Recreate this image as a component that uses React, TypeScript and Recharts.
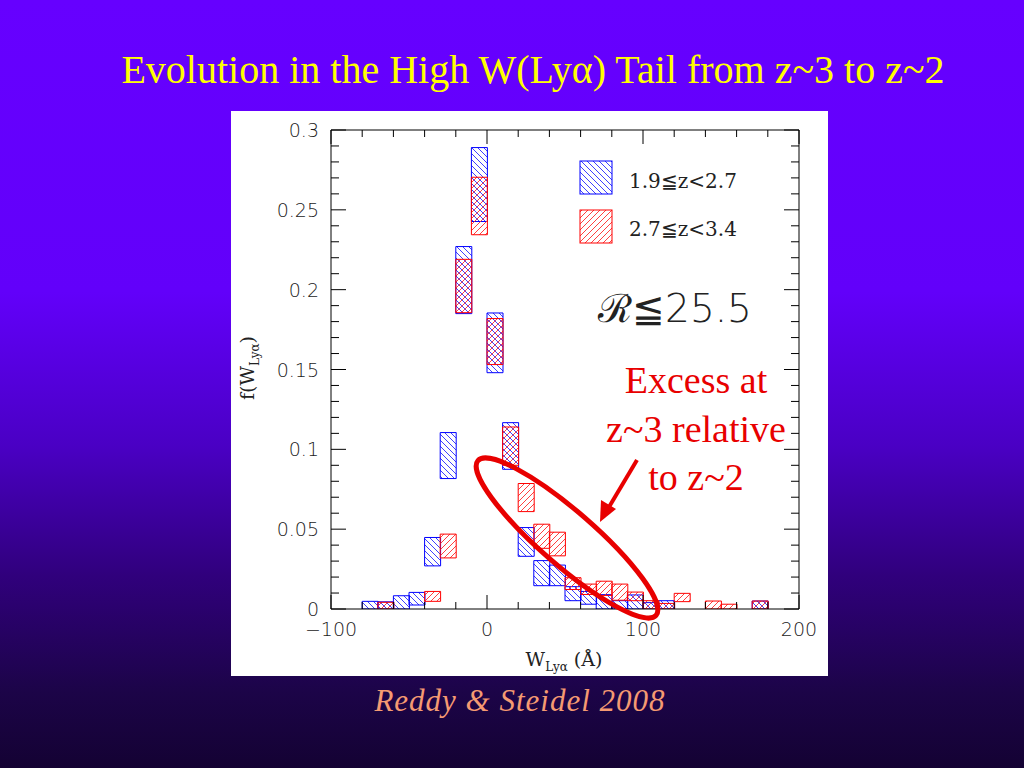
import React from 'react';
import { ComposedChart, Bar, XAxis, YAxis } from 'recharts';

// bin start (Å), each bin is 10 Å wide
const binStarts = [-100, -90, -80, -70, -60, -50, -40, -30, -20, -10, 0, 10, 20, 30, 40, 50, 60, 70, 80, 90, 100, 110, 120, 130, 140, 150, 160, 170, 180, 190];

// 1.9 <= z < 2.7 (blue): lower / upper edge of each box
const blueLow = [null, null, 0, 0, 0, 0.0025, 0.027, 0.0817, 0.185, 0.2427, 0.148, 0.0875, 0.033, 0.0146, 0.0146, 0.0052, 0.003, 0, 0, 0, 0, 0, null, null, null, null, null, 0, null, null];
const blueHigh = [null, null, 0.0048, 0.0045, 0.0083, 0.0104, 0.0448, 0.1105, 0.227, 0.289, 0.1854, 0.1167, 0.051, 0.0303, 0.0275, 0.014, 0.011, 0.009, 0.0052, 0.0088, 0.004, 0.0052, null, null, null, null, null, 0.005, null, null];

// 2.7 <= z < 3.4 (red)
const redLow = [null, null, null, 0, null, null, 0.0048, 0.032, 0.1856, 0.2344, 0.1531, 0.09, 0.061, 0.038, 0.0333, 0.0122, 0.0091, 0.0085, 0.0055, 0.0052, 0, 0, 0.0046, null, 0, 0, null, 0, null, null];
const redHigh = [null, null, null, 0.0042, null, null, 0.011, 0.0469, 0.219, 0.2704, 0.1819, 0.114, 0.0786, 0.0531, 0.0481, 0.0196, 0.0156, 0.0174, 0.0156, 0.0106, 0.0052, 0.0035, 0.0098, null, 0.005, 0.003, null, 0.005, null, null];

const xTicks = [-100, -80, -60, -40, -20, 0, 20, 40, 60, 80, 100, 120, 140, 160, 180, 200];
const xLabels = [-100, 0, 100, 200];
const yTicks = [0, 0.01, 0.02, 0.03, 0.04, 0.05, 0.06, 0.07, 0.08, 0.09, 0.1, 0.11, 0.12, 0.13, 0.14, 0.15, 0.16, 0.17, 0.18, 0.19, 0.2, 0.21, 0.22, 0.23, 0.24, 0.25, 0.26, 0.27, 0.28, 0.29, 0.3];
const yLabels = [0, 0.05, 0.1, 0.15, 0.2, 0.25, 0.3];

const seriesNames = ['1.9≦z<2.7', '2.7≦z<3.4'];

const data = binStarts.map((b, i) => ({
  bin: b,
  blue: blueLow[i] === null ? null : [blueLow[i], blueHigh[i]],
  red: redLow[i] === null ? null : [redLow[i], redHigh[i]],
  top: blueHigh[i] ?? 0,
}));

const tickFont = { fontFamily: 'DejaVu Sans', fontSize: 19, fontWeight: 200, fill: '#1a1a1a' };
const isXMajor = (v: number) => xLabels.includes(v);
const isYMajor = (v: number) => yLabels.includes(v);
const fmt = (v: number) => (v < 0 ? `−${-v}` : String(v));

const BottomTick = ({ x, y, payload }: any) => {
  const major = isXMajor(payload.value);
  return (
    <g>
      <line x1={x} y1={y} x2={x} y2={y - (major ? 14 : 7)} stroke="#000" />
      {major && (
        <text x={x} y={y + 27} textAnchor="middle" {...tickFont}>
          {fmt(payload.value)}
        </text>
      )}
    </g>
  );
};

const TopTick = ({ x, y, payload }: any) => {
  const major = isXMajor(payload.value);
  return <line x1={x} y1={y} x2={x} y2={y + (major ? 14 : 7)} stroke="#000" />;
};

const LeftTick = ({ x, y, payload }: any) => {
  const major = isYMajor(payload.value);
  return (
    <g>
      <line x1={x} y1={y} x2={x + (major ? 15 : 8)} y2={y} stroke="#000" />
      {major && (
        <text x={x - 12} y={y + 7} textAnchor="end" {...tickFont}>
          {fmt(payload.value)}
        </text>
      )}
    </g>
  );
};

const RightTick = ({ x, y, payload }: any) => {
  const major = isYMajor(payload.value);
  return <line x1={x} y1={y} x2={x - (major ? 15 : 8)} y2={y} stroke="#000" />;
};

function HatchDefs({ prefix }: { prefix: string }) {
  return (
    <defs>
      <pattern id={`${prefix}Blue`} patternUnits="userSpaceOnUse" width="6" height="6">
        <path d="M0,0 L6,6 M-1,5 L1,7 M5,-1 L7,1" stroke="#2a2aff" strokeWidth="0.9" />
      </pattern>
      <pattern id={`${prefix}Red`} patternUnits="userSpaceOnUse" width="6" height="6">
        <path d="M0,6 L6,0 M-1,1 L1,-1 M5,7 L7,5" stroke="#ff2a2a" strokeWidth="0.9" />
      </pattern>
    </defs>
  );
}

export default function App() {
  return (
    <div
      style={{
        position: 'absolute',
        left: 0,
        top: 0,
        width: 1024,
        height: 768,
        overflow: 'hidden',
        background: 'linear-gradient(to bottom, #6600ff 0%, #6200fa 38%, #4a00c4 58%, #30007c 75%, #1c0448 90%, #140233 100%)',
      }}
    >
      {/* white figure panel */}
      <div style={{ position: 'absolute', left: 231, top: 111, width: 597, height: 565, background: '#fff' }}>
        <ComposedChart
          width={597}
          height={565}
          data={data}
          margin={{ top: 18, right: 28, bottom: 27, left: 30 }}
          barCategoryGap={0}
          barGap={0}
        >
          <HatchDefs prefix="hatch" />
          <XAxis
            xAxisId="num"
            dataKey="bin"
            type="number"
            domain={[-100, 200]}
            allowDataOverflow
            ticks={xTicks}
            interval={0}
            height={40}
            tickSize={0}
            tickMargin={0}
            tickLine={false}
            axisLine={{ stroke: '#000' }}
            tick={<BottomTick />}
          />
          <XAxis
            xAxisId="top"
            dataKey="bin"
            orientation="top"
            type="number"
            domain={[-100, 200]}
            allowDataOverflow
            ticks={xTicks}
            interval={0}
            height={1}
            tickSize={0}
            tickMargin={0}
            tickLine={false}
            axisLine={{ stroke: '#000' }}
            tick={<TopTick />}
          />
          <XAxis xAxisId="blueX" dataKey="bin" type="category" height={0} hide />
          <XAxis xAxisId="redX" dataKey="bin" type="category" height={0} hide />
          <YAxis
            type="number"
            domain={[0, 0.3]}
            allowDataOverflow
            ticks={yTicks}
            interval={0}
            width={70}
            tickSize={0}
            tickMargin={0}
            tickLine={false}
            axisLine={{ stroke: '#000' }}
            tick={<LeftTick />}
          />
          <YAxis
            yAxisId="right"
            dataKey="top"
            orientation="right"
            type="number"
            domain={[0, 0.3]}
            allowDataOverflow
            ticks={yTicks}
            interval={0}
            width={1}
            tickSize={0}
            tickMargin={0}
            tickLine={false}
            axisLine={{ stroke: '#000' }}
            tick={<RightTick />}
          />
          <Bar
            xAxisId="blueX"
            dataKey="blue"
            name={seriesNames[0]}
            fill="url(#hatchBlue)"
            stroke="#0000ff"
            strokeWidth={1}
            isAnimationActive={false}
          />
          <Bar
            xAxisId="redX"
            dataKey="red"
            name={seriesNames[1]}
            fill="url(#hatchRed)"
            stroke="#ff0000"
            strokeWidth={1}
            isAnimationActive={false}
          />
        </ComposedChart>
      </div>

      {/* slide texts and annotations */}
      <svg width={1024} height={768} style={{ position: 'absolute', left: 0, top: 0, pointerEvents: 'none' }}>
        <HatchDefs prefix="leg" />
        <text x={533} y={83} textAnchor="middle" fill="#ffff00" fontFamily="Liberation Serif" fontSize={40}>
          Evolution in the High W(Lyα) Tail from z~3 to z~2
        </text>
        <text x={520} y={711} textAnchor="middle" fill="#f59a72" fontFamily="Liberation Serif" fontStyle="italic" fontSize={31} letterSpacing={1}>
          Reddy &amp; Steidel 2008
        </text>

        {/* legend */}
        <rect x={580} y={161} width={32} height={33} fill="url(#legBlue)" stroke="#0000ff" />
        <text x={629} y={188} fontFamily="DejaVu Serif" fontSize={20} fill="#222">{seriesNames[0]}</text>
        <rect x={580} y={210} width={32} height={33} fill="url(#legRed)" stroke="#ff0000" />
        <text x={629} y={236} fontFamily="DejaVu Serif" fontSize={20} fill="#222">{seriesNames[1]}</text>

        <text x={675} y={322} textAnchor="middle" fontFamily="DejaVu Sans" fontWeight={200} fontSize={39} fill="#222">
          ℛ≦25.5
        </text>

        {/* axis titles */}
        <text x={564} y={666} textAnchor="middle" fontFamily="DejaVu Serif" fontSize={19} fill="#222">
          W<tspan fontSize={12} dy={5}>Lyα</tspan>
          <tspan dy={-5}> (Å)</tspan>
        </text>
        <text
          x={0}
          y={0}
          transform="translate(254,368) rotate(-90)"
          textAnchor="middle"
          fontFamily="DejaVu Serif"
          fontSize={19}
          fill="#222"
        >
          f(W<tspan fontSize={12} dy={5}>Lyα</tspan>
          <tspan dy={-5}>)</tspan>
        </text>

        {/* annotation */}
        <g fill="#e80000" fontFamily="Liberation Serif" fontSize={38} textAnchor="middle">
          <text x={696} y={393}>Excess at</text>
          <text x={696} y={442}>z~3 relative</text>
          <text x={696} y={490}>to z~2</text>
        </g>
        <ellipse cx={567} cy={538} rx={118} ry={27} transform="rotate(41 567 538)" fill="none" stroke="#e80000" strokeWidth={5} />
        <line x1={637} y1={460} x2={609} y2={507} stroke="#e80000" strokeWidth={4} />
        <polygon points="600,522 601,500 616,509" fill="#e80000" />
      </svg>
    </div>
  );
}
